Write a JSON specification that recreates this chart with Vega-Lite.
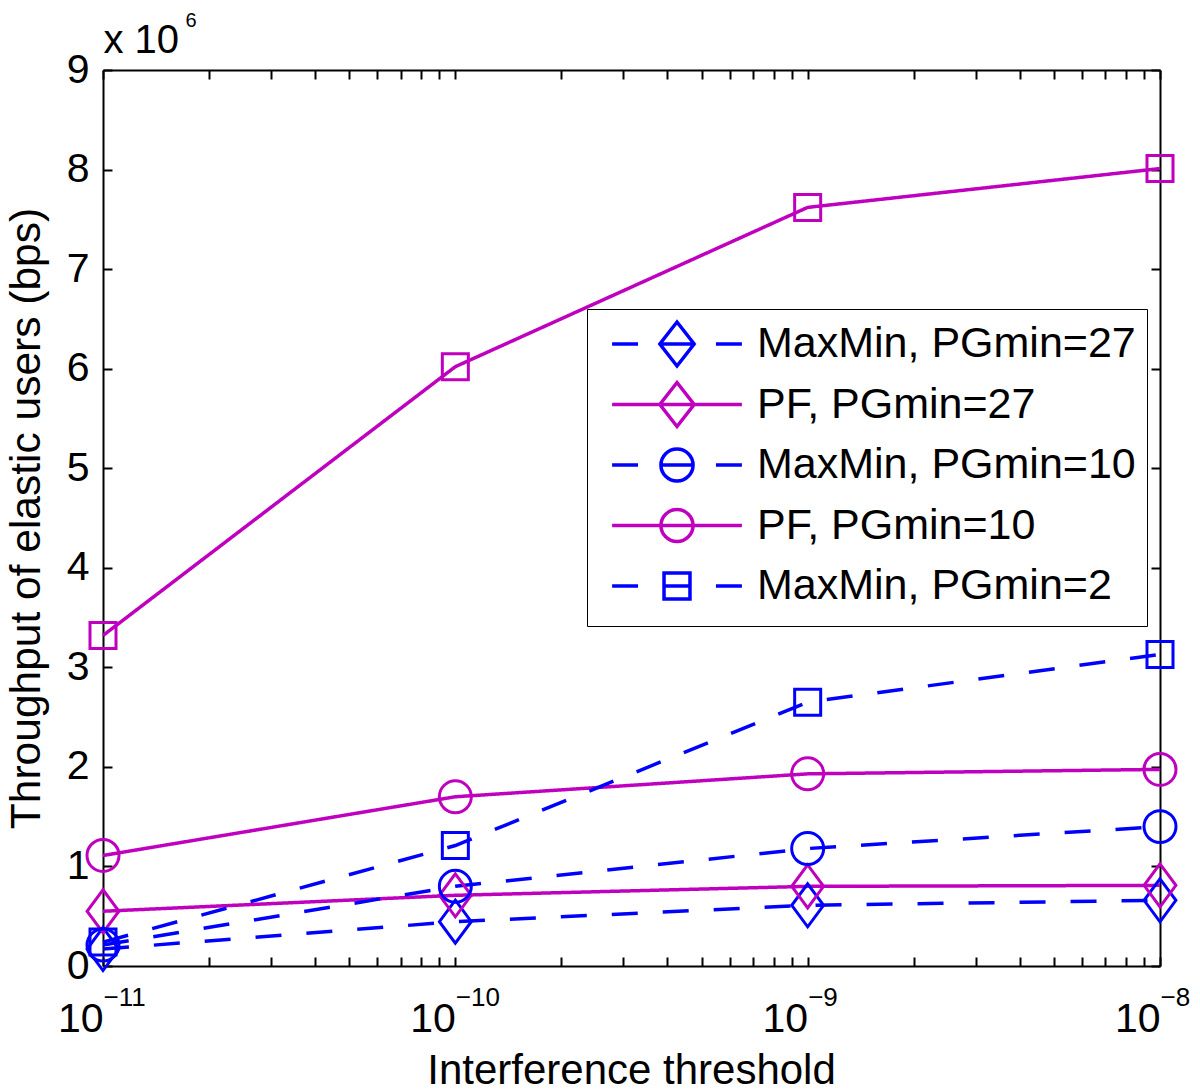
{
  "$schema": "https://vega.github.io/schema/vega-lite/v6.json",
  "width": 1057,
  "height": 896,
  "autosize": {"type": "none"},
  "padding": {"left": 103, "top": 70, "right": 40, "bottom": 126},
  "background": "white",
  "config": {
    "view": {"stroke": null},
    "font": "Liberation Sans",
    "axis": {"grid": false, "domainColor": "black", "domainWidth": 2, "tickColor": "black", "tickWidth": 2, "labelColor": "black", "titleColor": "black", "labelFont": "Liberation Sans", "titleFont": "Liberation Sans", "titleFontWeight": "normal"}
  },
  "data": {"values": [
    {"series": "MaxMin, PGmin=27", "x": 1e-11, "y": 170000},
    {"series": "MaxMin, PGmin=27", "x": 1e-10, "y": 445000},
    {"series": "MaxMin, PGmin=27", "x": 1e-9, "y": 610000},
    {"series": "MaxMin, PGmin=27", "x": 1e-8, "y": 660000},
    {"series": "PF, PGmin=27", "x": 1e-11, "y": 550000},
    {"series": "PF, PGmin=27", "x": 1e-10, "y": 710000},
    {"series": "PF, PGmin=27", "x": 1e-9, "y": 800000},
    {"series": "PF, PGmin=27", "x": 1e-8, "y": 810000},
    {"series": "MaxMin, PGmin=10", "x": 1e-11, "y": 210000},
    {"series": "MaxMin, PGmin=10", "x": 1e-10, "y": 800000},
    {"series": "MaxMin, PGmin=10", "x": 1e-9, "y": 1180000},
    {"series": "MaxMin, PGmin=10", "x": 1e-8, "y": 1400000},
    {"series": "PF, PGmin=10", "x": 1e-11, "y": 1110000},
    {"series": "PF, PGmin=10", "x": 1e-10, "y": 1700000},
    {"series": "PF, PGmin=10", "x": 1e-9, "y": 1930000},
    {"series": "PF, PGmin=10", "x": 1e-8, "y": 1975000},
    {"series": "MaxMin, PGmin=2", "x": 1e-11, "y": 240000},
    {"series": "MaxMin, PGmin=2", "x": 1e-10, "y": 1210000},
    {"series": "MaxMin, PGmin=2", "x": 1e-9, "y": 2650000},
    {"series": "MaxMin, PGmin=2", "x": 1e-8, "y": 3130000},
    {"series": "PF, PGmin=2", "x": 1e-11, "y": 3320000},
    {"series": "PF, PGmin=2", "x": 1e-10, "y": 6020000},
    {"series": "PF, PGmin=2", "x": 1e-9, "y": 7620000},
    {"series": "PF, PGmin=2", "x": 1e-8, "y": 8010000}
  ]},
  "layer": [
    {
      "mark": {"type": "line", "strokeWidth": 3.5, "strokeCap": "butt", "clip": false},
      "encoding": {
        "x": {"field": "x", "type": "quantitative", "scale": {"type": "log", "domain": [1e-11, 1e-8], "nice": false},
          "axis": {"orient": "bottom", "values": [1e-11,2e-11,3e-11,4e-11,5e-11,6e-11,7e-11,8e-11,9e-11,1e-10,2e-10,3e-10,4e-10,5e-10,6e-10,7e-10,8e-10,9e-10,1e-9,2e-9,3e-9,4e-9,5e-9,6e-9,7e-9,8e-9,9e-9,1e-8],
            "tickSize": -9, "labelExpr": "abs(log(datum.value)/LN10 - round(log(datum.value)/LN10)) < 0.01 ? '10' : ''",
            "labelFontSize": 41, "labelAlign": "right", "labelDx": 2, "labelBaseline": "alphabetic", "labelPadding": 74, "labelOverlap": false, "labelFlush": false,
            "title": "Interference threshold", "titleFontSize": 42, "titleBaseline": "alphabetic", "titleY": 117, "titleX": 528}},
        "y": {"field": "y", "type": "quantitative", "scale": {"domain": [0, 9000000], "nice": false},
          "axis": {"orient": "left", "values": [0,1000000,2000000,3000000,4000000,5000000,6000000,7000000,8000000,9000000],
            "tickSize": -9, "labelExpr": "format(datum.value/1000000, 'd')", "labelFontSize": 41, "labelPadding": 23, "labelBaseline": "middle",
            "title": "Throughput of elastic users (bps)", "titleFontSize": 42.5, "titleBaseline": "alphabetic", "titleX": -64, "titleY": 448, "titleAngle": 270, "titleAlign": "center"}},
        "color": {"field": "series", "type": "nominal", "legend": null,
          "scale": {"domain": ["MaxMin, PGmin=27","PF, PGmin=27","MaxMin, PGmin=10","PF, PGmin=10","MaxMin, PGmin=2","PF, PGmin=2"],
            "range": ["#0000FF","#BF00BF","#0000FF","#BF00BF","#0000FF","#BF00BF"]}},
        "strokeDash": {"field": "series", "type": "nominal", "legend": null,
          "scale": {"domain": ["MaxMin, PGmin=27","PF, PGmin=27","MaxMin, PGmin=10","PF, PGmin=10","MaxMin, PGmin=2","PF, PGmin=2"],
            "range": [[26,25],[1,0],[26,25],[1,0],[26,25],[1,0]]}}
      }
    },
    {
      "mark": {"type": "point", "filled": false, "strokeWidth": 3, "size": 1849, "opacity": 1, "clip": false},
      "encoding": {
        "x": {"field": "x", "type": "quantitative",
          "axis": {"orient": "top", "values": [1e-11,2e-11,3e-11,4e-11,5e-11,6e-11,7e-11,8e-11,9e-11,1e-10,2e-10,3e-10,4e-10,5e-10,6e-10,7e-10,8e-10,9e-10,1e-9,2e-9,3e-9,4e-9,5e-9,6e-9,7e-9,8e-9,9e-9,1e-8],
            "tickSize": -9, "labels": false, "title": null}},
        "y": {"field": "y", "type": "quantitative",
          "axis": {"orient": "right", "values": [0,1000000,2000000,3000000,4000000,5000000,6000000,7000000,8000000,9000000], "tickSize": -9, "labels": false,
            "title": "x 10", "titleFontSize": 40, "titleAngle": 0, "titleBaseline": "alphabetic", "titleAlign": "left", "titleX": -1057, "titleY": -18}},
        "color": {"field": "series", "type": "nominal", "legend": null,
          "scale": {"domain": ["MaxMin, PGmin=27","PF, PGmin=27","MaxMin, PGmin=10","PF, PGmin=10","MaxMin, PGmin=2","PF, PGmin=2"],
            "range": ["#0000FF","#BF00BF","#0000FF","#BF00BF","#0000FF","#BF00BF"]}},
        "shape": {"field": "series", "type": "nominal", "legend": null,
          "scale": {"domain": ["MaxMin, PGmin=27","PF, PGmin=27","MaxMin, PGmin=10","PF, PGmin=10","MaxMin, PGmin=2","PF, PGmin=2"],
            "range": ["M0,-1L0.74,0L0,1L-0.74,0Z","M0,-1L0.74,0L0,1L-0.74,0Z",
              "M-0.744,0A0.744,0.744,0,1,0,0.744,0A0.744,0.744,0,1,0,-0.744,0Z","M-0.744,0A0.744,0.744,0,1,0,0.744,0A0.744,0.744,0,1,0,-0.744,0Z",
              "M-0.605,-0.605H0.605V0.605H-0.605Z","M-0.605,-0.605H0.605V0.605H-0.605Z"]}}
      }
    },
    {
      "transform": [{"filter": "datum.series != 'PF, PGmin=2'"}],
      "mark": {"type": "point", "filled": false, "opacity": 0, "clip": false},
      "encoding": {
        "x": {"field": "x", "type": "quantitative",
          "axis": {"orient": "bottom", "values": [1e-11, 1e-10, 1e-9, 1e-8], "ticks": false, "domain": false, "labelExpr": "'\u2212' + (-round(log(datum.value)/LN10))",
            "labelFontSize": 26, "labelAlign": "left", "labelDx": 1, "labelBaseline": "alphabetic", "labelPadding": 39, "labelOverlap": false, "labelFlush": false, "title": null}},
        "y": {"field": "y", "type": "quantitative",
          "axis": {"orient": "left", "values": [9000000], "ticks": false, "domain": false, "labels": false,
            "title": "6", "titleFontSize": 20, "titleAngle": 0, "titleBaseline": "alphabetic", "titleAlign": "left", "titleX": 82, "titleY": -44}},
        "color": {"field": "series", "type": "nominal",
          "scale": {"domain": ["MaxMin, PGmin=27","PF, PGmin=27","MaxMin, PGmin=10","PF, PGmin=10","MaxMin, PGmin=2"],
            "range": ["#0000FF","#BF00BF","#0000FF","#BF00BF","#0000FF"]},
          "legend": {"orient": "none", "legendX": 484, "legendY": 239, "title": null, "padding": 11, "strokeColor": "black", "fillColor": "white",
            "symbolSize": 1936, "symbolStrokeWidth": 3.5, "symbolOpacity": 1, "symbolFillColor": "transparent", "symbolOffset": 55, "labelOffset": 56,
            "labelFont": "Liberation Sans", "labelFontSize": 43, "labelColor": "black", "rowPadding": 2.5, "labelLimit": 0,
            "encode": {"legend": {"update": {"strokeWidth": {"value": 1.5}}}, "symbols": {"update": {"opacity": {"value": 1}, "fill": {"value": "transparent"}}}}}},
        "shape": {"field": "series", "type": "nominal",
          "scale": {"domain": ["MaxMin, PGmin=27","PF, PGmin=27","MaxMin, PGmin=10","PF, PGmin=10","MaxMin, PGmin=2"],
            "range": ["M0,-1M0,1M-2.95,0H-1.77M1.77,0H2.95M-0.78,0H0.78M0,-1L0.78,0L0,1L-0.78,0Z",
              "M0,-1M0,1M-2.95,0H2.95M0,-1L0.78,0L0,1L-0.78,0Z",
              "M0,-1M0,1M-2.95,0H-1.77M1.77,0H2.95M-0.73,0H0.73M-0.73,0A0.73,0.73,0,1,0,0.73,0A0.73,0.73,0,1,0,-0.73,0Z",
              "M0,-1M0,1M-2.95,0H2.95M-0.73,0A0.73,0.73,0,1,0,0.73,0A0.73,0.73,0,1,0,-0.73,0Z",
              "M0,-1M0,1M-2.95,0H-1.77M1.77,0H2.95M-0.59,0H0.59M-0.59,-0.59H0.59V0.59H-0.59Z"]},
          "legend": {"orient": "none", "legendX": 484, "legendY": 239, "title": null, "padding": 11, "strokeColor": "black", "fillColor": "white",
            "symbolSize": 1936, "symbolStrokeWidth": 3.5, "symbolOpacity": 1, "symbolFillColor": "transparent", "symbolOffset": 55, "labelOffset": 56,
            "labelFont": "Liberation Sans", "labelFontSize": 43, "labelColor": "black", "rowPadding": 2.5, "labelLimit": 0,
            "encode": {"legend": {"update": {"strokeWidth": {"value": 1.5}}}, "symbols": {"update": {"opacity": {"value": 1}, "fill": {"value": "transparent"}}}}}}
      }
    }
  ],
  "resolve": {"scale": {"color": "independent", "shape": "independent"}, "axis": {"x": "independent", "y": "independent"}}
}
